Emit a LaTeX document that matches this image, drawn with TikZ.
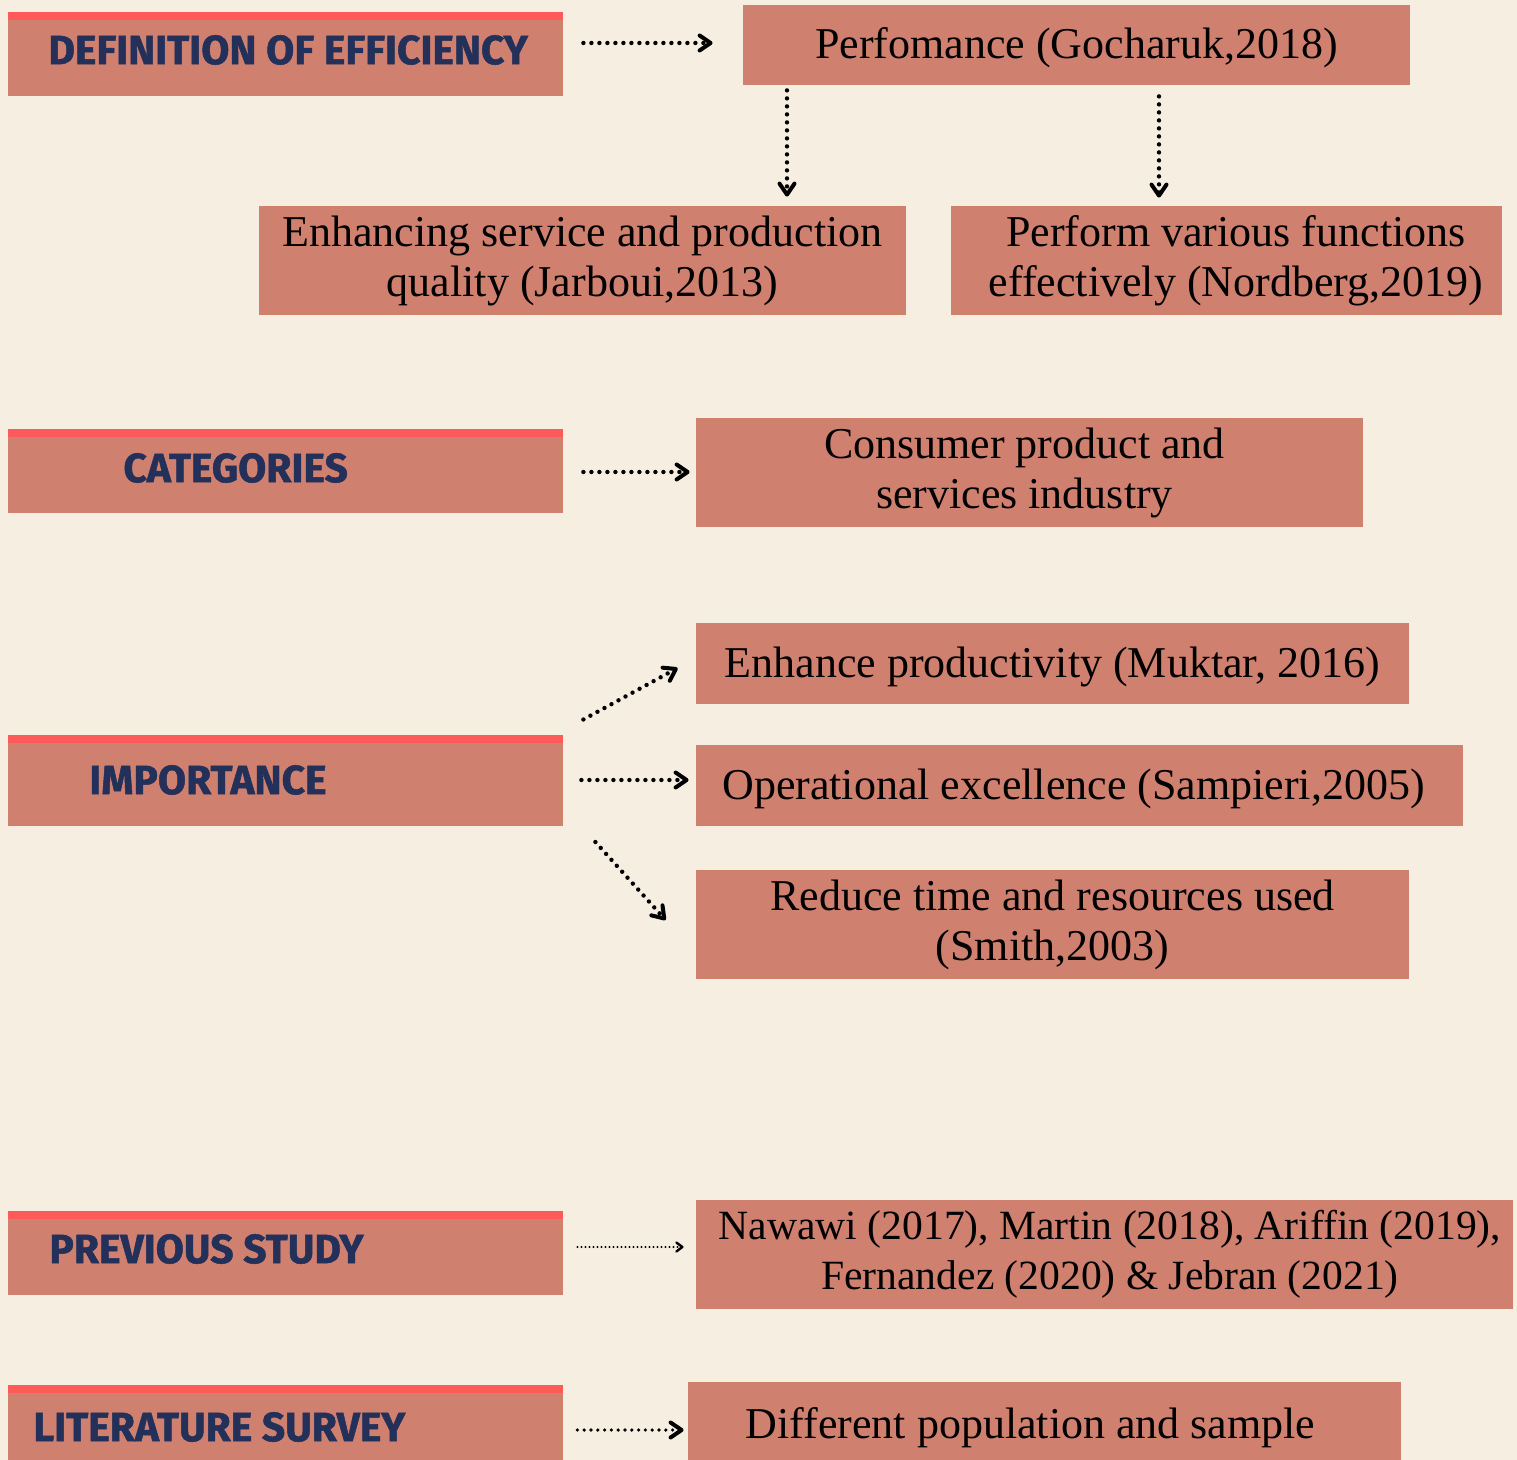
\documentclass[tikz,border=0pt]{standalone}
\usepackage{fontspec}
\setmainfont{Liberation Serif}
\newfontfamily\hdrfont[FakeBold=1.2]{Fira Sans}
\usetikzlibrary{arrows.meta,calc,positioning}

\definecolor{paper}{HTML}{F5EEE1}
\definecolor{boxfill}{HTML}{CF806F}
\definecolor{barred}{HTML}{FF5A5A}
\definecolor{hdrblue}{HTML}{22305A}

\tikzset{
  hdrbox/.style={fill=boxfill, minimum width=277.5pt, minimum height=42pt, inner sep=0pt,
    path picture={\fill[barred] (path picture bounding box.north west)
      rectangle ([yshift=-4pt]path picture bounding box.north east);}},
  hdrtext/.style={anchor=west, inner sep=0pt, text=hdrblue,
    font=\hdrfont\bfseries\fontsize{20.4}{24}\selectfont},
  itembox/.style={fill=boxfill, inner sep=0pt, align=center,
    font=\fontsize{22}{25}\selectfont},
  oneline/.style={text depth=1.6pt},
  dotarrow/.style={line width=2.2pt, line cap=round, dash pattern=on 0pt off 4pt,
    -{Straight Barb[round,length=5.5pt,width=7.5pt,line width=2pt]}},
  thinarrow/.style={dotarrow, line width=1.1pt, dash pattern=on 0pt off 2pt,
    -{Straight Barb[round,length=3pt,width=4.5pt,line width=1.2pt]}}
}

\begin{document}
\begin{tikzpicture}[x=0.5pt,y=-0.5pt]

  % canvas
  \fill[paper] (0,0) rectangle (1517,1460);
  \useasboundingbox (0,0) rectangle (1517,1460);

  % left headings
  \node[hdrbox] (defbox) at (285.5,54) {};
  \node[hdrbox] (catbox) at (285.5,471) {};
  \node[hdrbox, minimum height=45.5pt] (impbox) at (285.5,780.5) {};
  \node[hdrbox] (prevbox) at (285.5,1252.5) {};
  \node[hdrbox, minimum height=42pt] (litbox) at (285.5,1427) {};

  \node[hdrtext] (deftxt)  at (48,50)   {DEFINITION OF EFFICIENCY};
  \node[hdrtext] (cattxt)  at (123,468) {CATEGORIES};
  \node[hdrtext] (imptxt)  at (89,780)  {IMPORTANCE};
  \node[hdrtext] (prevtxt) at (49,1249) {PREVIOUS STUDY};
  \node[hdrtext] (littxt)  at (33,1427) {LITERATURE SURVEY};

  % right boxes
  \node[itembox, oneline, minimum width=333.5pt, minimum height=40pt] (perf) at (1076.5,45)
    {Perfomance (Gocharuk,2018)};
  \node[itembox, minimum width=323.5pt, minimum height=54.5pt] (enh) at (582.5,260.5)
    {Enhancing service and production\\quality (Jarboui,2013)};
  \node[itembox, minimum width=275.5pt, minimum height=54.5pt] (func) at (1226.5,260.5)
    {\hspace*{9.5pt}Perform various functions\\\hspace*{9.5pt}effectively (Nordberg,2019)};
  \node[itembox, minimum width=333.5pt, minimum height=54.5pt] (cons) at (1029.5,472.5)
    {Consumer product and\hspace*{5pt}\\services industry\hspace*{5pt}};
  \node[itembox, oneline, minimum width=356.5pt, minimum height=40.5pt] (prod) at (1052.5,663.5)
    {Enhance productivity (Muktar, 2016)};
  \node[itembox, oneline, minimum width=383.5pt, minimum height=40.5pt] (oper) at (1079.5,785.5)
    {Operational excellence (Sampieri,2005)\hspace*{6pt}};
  \node[itembox, minimum width=356.5pt, minimum height=54.5pt] (redu) at (1052.5,924.5)
    {Reduce time and resources used\\(Smith,2003)};
  \node[itembox, minimum width=408.5pt, minimum height=54.5pt,
        font=\fontsize{20.8}{25}\selectfont] (prev) at (1104.5,1254.5)
    {\hspace*{5.5pt}Nawawi (2017), Martin (2018), Ariffin (2019),\\
     \hspace*{5.5pt}Fernandez (2020) \& Jebran (2021)};
  \node[itembox, oneline, minimum width=356.5pt, minimum height=43pt] (diff) at (1044.5,1425)
    {Different population and sample\hspace*{14pt}};

  % connectors
  \draw[dotarrow] ($(defbox.east)+(20,-11)$) -- ($(perf.west)+(-30,-2)$);
  \draw[dotarrow] ($(perf.south)+(-289.5,5)$) -- ($(enh.north)+(204.5,-9)$);
  \draw[dotarrow] ($(perf.south)+(82.5,11)$) -- ($(func.north)+(-67.5,-8)$);
  \draw[dotarrow] ($(catbox.east)+(20,1)$) -- ($(cons.west)+(-6,-0.5)$);
  \draw[dotarrow] ($(impbox.east)+(20,-61)$) -- ($(prod.west)+(-18,4.5)$);
  \draw[dotarrow] ($(impbox.east)+(18,-0.5)$) -- ($(oper.west)+(-7,-5.5)$);
  \draw[dotarrow] ($(impbox.east)+(32,61.5)$) -- ($(redu.west)+(-30,-4.5)$);
  \draw[thinarrow] ($(prevbox.east)+(14,-5.5)$) -- ($(prev.west)+(-12,-7.5)$);
  \draw[dotarrow, line width=1.8pt, dash pattern=on 0pt off 3.4pt]
    ($(litbox.east)+(14,3)$) -- ($(diff.west)+(-4,5)$);

\end{tikzpicture}
\end{document}
